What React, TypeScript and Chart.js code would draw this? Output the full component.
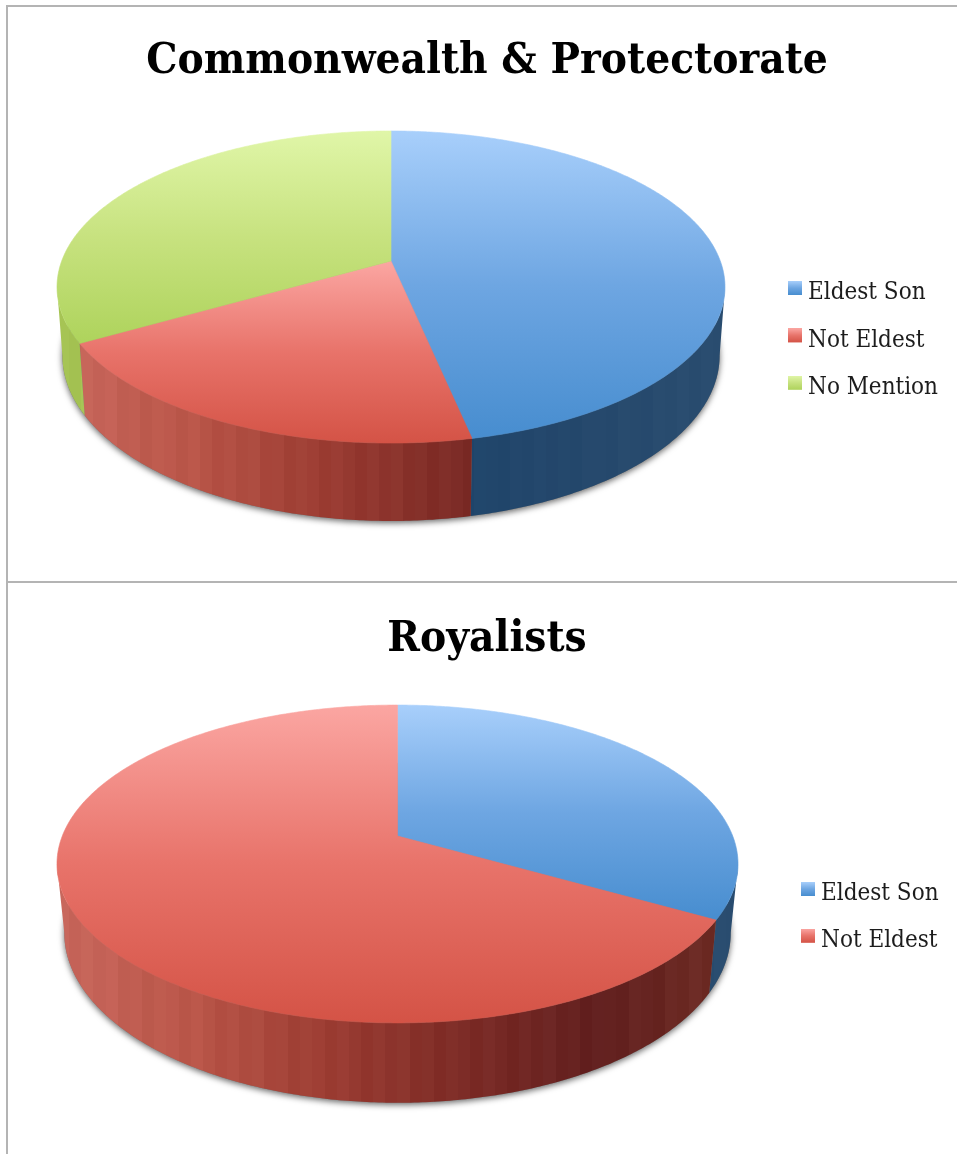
import React, { useEffect, useRef } from "react";
import { Chart, PieController, ArcElement, Legend, Title, Tooltip } from "chart.js";

// Chart contents
const commonwealthTitle = "Commonwealth & Protectorate";
const commonwealthLabels = ["Eldest Son", "Not Eldest", "No Mention"];
const commonwealthValues = [46.7, 20, 33.3];

const royalistsTitle = "Royalists";
const royalistsLabels = ["Eldest Son", "Not Eldest"];
const royalistsValues = [33.3, 66.7];

// Palette: lid gradient stops (far edge to near edge) and the rim shade, left to right
const lidBlue = ["#a8cffb", "#6ea6e2", "#478dcf"];
const lidRed = ["#fba6a2", "#e8736a", "#d45346"];
const lidGreen = ["#e0f6a8", "#c7e27f", "#aed35c"];
const rimBlue = ["#1f4a70", "#1f4a70", "#1f4a70", "#1f456b", "#25486c", "#2a4d70"];
const rimRed = ["#c8675c", "#b95548", "#9b3c32", "#7c2b26", "#62201f", "#6e2c24"];
const rimGreen = ["#a6c454", "#9ab94e", "#8fb048"];
const bandJitter = [0, -3, 2, -1, 3, -2, 1, -3, 2, 1, -2, 3];

type Projection = {
  cx: number; cy: number; a: number; b: number; k: number;
  baseCy: number; baseA: number; baseB: number;
  left: number; right: number;
};

const hex = (c: string) => [1, 3, 5].map((i) => parseInt(c.slice(i, i + 2), 16));

const mixStops = (stops: string[], t: number, shift: number) => {
  const p = t * (stops.length - 1);
  const i = Math.min(Math.floor(p), stops.length - 2);
  const f = p - i;
  const [a, b] = [hex(stops[i]), hex(stops[i + 1])];
  const c = a.map((v, n) => Math.round(v + (b[n] - v) * f + shift));
  return `rgb(${c[0]},${c[1]},${c[2]})`;
};

// Pie controller that lays the slices on a tilted disc with a rim, using the arc angles it computes
class TiltedPieController extends PieController {
  static id = "tiltedPie";
  static defaults = { ...PieController.defaults };
  static overrides = PieController.overrides;

  draw() {
    const ctx = this.chart.ctx;
    const ds: any = this.getDataset();
    const p: Projection = ds.projection;
    const arcs: any[] = this._cachedMeta.data;
    const steps = (a0: number, a1: number) => {
      const n = Math.max(2, Math.ceil((a1 - a0) / 0.01));
      return Array.from({ length: n + 1 }, (_, i) => a0 + ((a1 - a0) * i) / n);
    };
    const lid = (t: number) => {
      const u = Math.cos(t), v = Math.sin(t), w = 1 - p.k * v;
      return [p.cx + (p.a * u) / w, p.cy + (p.b * v) / w];
    };
    const base = (t: number) => {
      const u = Math.cos(t), v = Math.sin(t), w = 1 - p.k * v;
      return [p.cx + (p.baseA * u) / w, p.baseCy + (p.baseB * v) / w];
    };
    // Only the part of the rim between the two silhouette tangents faces the viewer
    const frontFrom = Math.asin(p.k);
    const frontTo = Math.PI - frontFrom;

    // Soft cast shadow under the disc's base
    ctx.save();
    ctx.shadowColor = "rgba(0,0,0,0.6)";
    ctx.shadowBlur = 6;
    ctx.shadowOffsetY = 2;
    ctx.fillStyle = "#777";
    ctx.beginPath();
    steps(0, Math.PI * 2).forEach((t, i) => {
      const [x, y] = base(t);
      if (i) ctx.lineTo(x, y); else ctx.moveTo(x, y);
    });
    ctx.closePath();
    ctx.fill();
    ctx.restore();

    // Rim: one ribbon per slice, lightly banded across its width
    arcs.forEach((arc, i) => {
      const a0 = Math.max(arc.startAngle, frontFrom);
      const a1 = Math.min(arc.endAngle, frontTo);
      if (a1 <= a0) return;
      const stops: string[] = ds.rimStops[i];
      const grad = ctx.createLinearGradient(p.left, 0, p.right, 0);
      const bands = 56;
      for (let b = 0; b < bands; b++) {
        const c = mixStops(stops, b / (bands - 1), bandJitter[b % bandJitter.length] * ds.rimJitter[i]);
        grad.addColorStop(b / bands, c);
        grad.addColorStop((b + 1) / bands, c);
      }
      const ts = steps(a0, a1);
      ctx.fillStyle = grad;
      ctx.beginPath();
      ts.forEach((t, n) => {
        const [x, y] = lid(t);
        if (n) ctx.lineTo(x, y); else ctx.moveTo(x, y);
      });
      ts.slice().reverse().forEach((t) => {
        const [x, y] = base(t);
        ctx.lineTo(x, y);
      });
      ctx.closePath();
      ctx.fill();
    });

    // Lids, each with a vertical gradient over the slice's own height; the thin stroke closes seams
    arcs.forEach((arc, i) => {
      const stops: string[] = ds.lidStops[i];
      const pts = steps(arc.startAngle, arc.endAngle).map(lid);
      const ys = pts.map((q) => q[1]).concat(p.cy);
      const grad = ctx.createLinearGradient(0, Math.min(...ys), 0, Math.max(...ys));
      stops.forEach((c, n) => grad.addColorStop(n / (stops.length - 1), c));
      ctx.fillStyle = grad;
      ctx.strokeStyle = grad;
      ctx.lineWidth = 0.6;
      ctx.beginPath();
      ctx.moveTo(p.cx, p.cy);
      pts.forEach(([x, y]) => ctx.lineTo(x, y));
      ctx.closePath();
      ctx.fill();
      ctx.stroke();
    });
  }
}

Chart.register(TiltedPieController, ArcElement, Legend, Title, Tooltip);

// Legend marker: the swatch sits above the middle of its image so it rides a little above the text centre
const swatch = (stops: string[]) => {
  const c = document.createElement("canvas");
  c.width = 14;
  c.height = 24;
  const g = c.getContext("2d")!;
  const grad = g.createLinearGradient(0, 0, 0, 14);
  stops.forEach((s, n) => grad.addColorStop(n / (stops.length - 1), s));
  g.fillStyle = grad;
  g.fillRect(0, 0, 14, 14);
  return c;
};

const titleFont = { family: "'DejaVu Serif Condensed', 'DejaVu Serif'", weight: "bold" as const, size: 43.7 };
const legendFont = { family: "'DejaVu Serif Condensed', 'DejaVu Serif'", size: 24 };

type PanelProps = {
  title: string; labels: string[]; values: number[];
  lidStops: string[][]; rimStops: string[][]; rimJitter: number[];
  projection: Projection; legendAt: { x: number; y: number }; titleTop: number;
  rowGap: number; width: number; height: number; top: number;
};

function Panel(props: PanelProps) {
  const ref = useRef<HTMLCanvasElement>(null);
  useEffect(() => {
    const placeLegend = {
      id: "placeLegend",
      afterLayout(chart: any) {
        const l = chart.legend;
        const pad = l.options.labels.padding;
        const w = l.right - l.left, h = l.bottom - l.top;
        l.left = props.legendAt.x - pad;
        l.right = l.left + w;
        l.top = props.legendAt.y - pad;
        l.bottom = l.top + h;
      },
    };
    const chart = new Chart(ref.current!, {
      type: "tiltedPie" as any,
      data: {
        labels: props.labels,
        datasets: [{
          data: props.values,
          backgroundColor: props.lidStops.map((s) => s[1]),
          lidStops: props.lidStops,
          rimStops: props.rimStops,
          rimJitter: props.rimJitter,
          projection: props.projection,
        } as any],
      },
      plugins: [placeLegend],
      options: {
        animation: false,
        responsive: false,
        layout: { padding: { left: 9 } },
        plugins: {
          tooltip: { enabled: false },
          title: {
            display: true,
            text: props.title,
            color: "#000",
            font: titleFont,
            padding: { top: props.titleTop, bottom: 10 },
          },
          legend: {
            position: "right",
            align: "start",
            labels: {
              color: "#1c1c1c",
              font: legendFont,
              boxWidth: 2,
              boxHeight: 14,
              padding: props.rowGap,
              usePointStyle: true,
              generateLabels: (c: any) =>
                c.data.labels.map((text: string, i: number) => ({
                  text,
                  index: i,
                  fontColor: "#1c1c1c",
                  pointStyle: swatch(props.lidStops[i]),
                  hidden: false,
                  lineWidth: 0,
                })),
            },
          },
        },
      } as any,
    });
    return () => chart.destroy();
  }, []);
  return (
    <div style={{ position: "absolute", left: 6, top: props.top, width: 951, height: props.height, borderLeft: "2px solid #b4b4b4", borderTop: "2px solid #b4b4b4", background: "#fff" }}>
      <canvas ref={ref} width={props.width} height={props.height} style={{ display: "block" }} />
    </div>
  );
}

export default function App() {
  return (
    <div style={{ position: "fixed", left: 0, top: 0, width: 957, height: 1154, overflow: "hidden", background: "#fff" }}>
      <Panel
        title={commonwealthTitle}
        labels={commonwealthLabels}
        values={commonwealthValues}
        lidStops={[lidBlue, lidRed, lidGreen]}
        rimStops={[rimBlue, rimRed, rimGreen]}
        rimJitter={[0.4, 1, 1]}
        projection={{ cx: 383, cy: 254, a: 329.3, b: 151.7, k: 0.1667, baseCy: 321, baseA: 324, baseB: 160.8, left: 49, right: 717 }}
        legendAt={{ x: 786, y: 274 }}
        titleTop={28}
        rowGap={23.4}
        width={949}
        height={574}
        top={5}
      />
      <Panel
        title={royalistsTitle}
        labels={royalistsLabels}
        values={royalistsValues}
        lidStops={[lidBlue, lidRed]}
        rimStops={[rimBlue, rimRed]}
        rimJitter={[0.4, 1]}
        projection={{ cx: 389.5, cy: 253, a: 335.2, b: 154, k: 0.176, baseCy: 320, baseA: 328, baseB: 164.6, left: 49, right: 730 }}
        legendAt={{ x: 799, y: 299 }}
        titleTop={30}
        rowGap={22.8}
        width={949}
        height={571}
        top={581}
      />
    </div>
  );
}
